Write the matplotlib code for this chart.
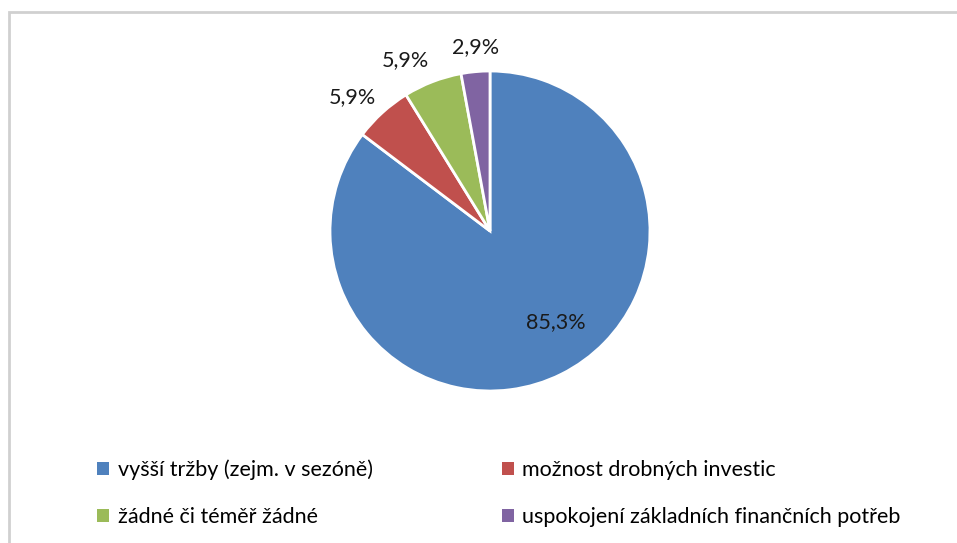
import matplotlib
matplotlib.use('Agg')
import matplotlib.pyplot as plt
from matplotlib.patches import Rectangle, Patch

plt.rcParams['font.family'] = ['Lato', 'DejaVu Sans']

# data
categories = ['vyšší tržby (zejm. v sezóně)', 'možnost drobných investic',
              'žádné či téměř žádné', 'uspokojení základních finančních potřeb']
values = [85.3, 5.9, 5.9, 2.9]
colors = ['#4F81BD', '#C0504D', '#9BBB59', '#8064A2']

# label positions (in units of pie radius)
label_pos = [(0.41, -0.57), (-0.86, 0.84), (-0.53, 1.07), (-0.09, 1.15)]

W, H = 957, 543
fig = plt.figure(figsize=(W / 100, H / 100), dpi=100)

# chart frame (runs off right and bottom edges)
fig.patches.append(Rectangle((9 / W, -0.1), 1.2, (H - 12) / H + 0.1,
                             transform=fig.transFigure, fill=False,
                             edgecolor='#D0D0D0', linewidth=2))

cx, cy, r = 490, H - 231, 160
ax = fig.add_axes([(cx - r) / W, (cy - r) / H, 2 * r / W, 2 * r / H])

wedges, texts = ax.pie(values, colors=colors, startangle=90, counterclock=False,
                       wedgeprops=dict(edgecolor='white', linewidth=2))
ax.set_xlim(-1, 1)
ax.set_ylim(-1, 1)
ax.set_aspect('equal')

for v, (x, y) in zip(values, label_pos):
    ax.text(x, y, f'{v:.1f}'.replace('.', ',') + '%', ha='center', va='center',
            fontsize=15.5, color='#1a1a1a')

# legend: matplotlib fills column-wise
order = [0, 2, 1, 3]
handles = [Patch(facecolor=colors[i], edgecolor='none') for i in order]
labels = [categories[i] for i in order]
fig.legend(handles, labels, ncol=2, loc='upper left',
           bbox_to_anchor=(78 / W, 1 - 440 / H), frameon=False,
           fontsize=15.5, handlelength=0.55, handleheight=0.55, handletextpad=0.4,
           labelspacing=1.27, columnspacing=6.0)

fig.savefig('out.png', dpi=100)
